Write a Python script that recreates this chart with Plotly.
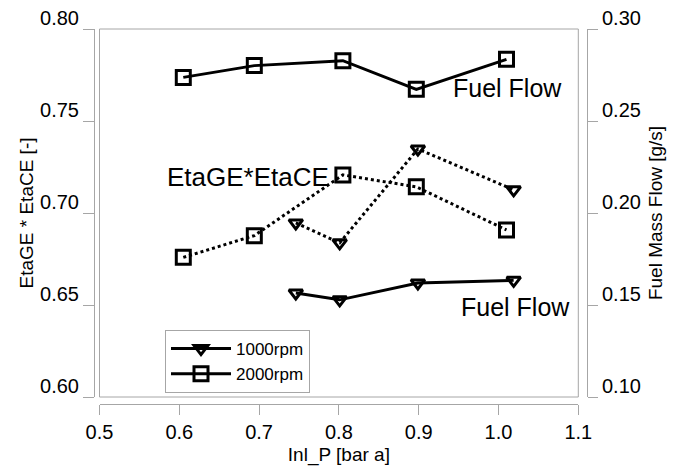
import plotly.graph_objects as go

# Inlet pressure [bar a] for each engine speed
inl_p_1000 = [0.746, 0.801, 0.899, 1.019]
inl_p_2000 = [0.605, 0.694, 0.805, 0.897, 1.010]

# Combined efficiency EtaGE*EtaCE [-]
eta_1000 = [0.6946, 0.6838, 0.7348, 0.7126]
eta_2000 = [0.6759, 0.6877, 0.7207, 0.7142, 0.6908]

# Fuel mass flow [g/s]
fuel_1000 = [0.1565, 0.1528, 0.1620, 0.1634]
fuel_2000 = [0.2737, 0.2801, 0.2828, 0.2672, 0.2835]

series_names = ["1000rpm", "2000rpm"]

FONT = "Arial, Liberation Sans, sans-serif"
GREY = "#a6a6a6"

# plot-area placement in paper fractions (margins are zero)
X0, X1 = 99.5 / 679, 578.3 / 679
Y0, Y1 = 1 - 397 / 468, 1 - 29 / 468

tri = dict(symbol="triangle-down-open", size=12, color="black", line=dict(width=3, color="black"))
sq = dict(symbol="square-open", size=14, color="black", line=dict(width=3, color="black"))

fig = go.Figure()

fig.add_trace(go.Scatter(x=inl_p_1000, y=eta_1000, mode="lines+markers", marker=tri,
                         line=dict(color="black", width=3, dash="dot"), showlegend=False))
fig.add_trace(go.Scatter(x=inl_p_2000, y=eta_2000, mode="lines+markers", marker=sq,
                         line=dict(color="black", width=3, dash="dot"), showlegend=False))
fig.add_trace(go.Scatter(x=inl_p_1000, y=fuel_1000, mode="lines+markers", marker=tri, yaxis="y2",
                         line=dict(color="black", width=3), showlegend=False))
fig.add_trace(go.Scatter(x=inl_p_2000, y=fuel_2000, mode="lines+markers", marker=sq, yaxis="y2",
                         line=dict(color="black", width=3), showlegend=False))

# legend entries (solid line with marker)
fig.add_trace(go.Scatter(x=[None], y=[None], mode="lines+markers", marker=tri, name=series_names[0],
                         line=dict(color="black", width=3)))
fig.add_trace(go.Scatter(x=[None], y=[None], mode="lines+markers", marker=sq, name=series_names[1],
                         line=dict(color="black", width=3)))

tickfont = dict(family=FONT, size=20, color="black")
titlefont = dict(family=FONT, size=19, color="black")

fig.update_layout(
    template="none",
    width=679, height=468,
    margin=dict(l=0, r=0, t=0, b=0),
    paper_bgcolor="white", plot_bgcolor="white",
    font=dict(family=FONT, color="black"),
    xaxis=dict(domain=[X0, X1], range=[0.5, 1.1], dtick=0.1, tick0=0.5, tickformat=".1f",
               anchor="free", position=1 - 404 / 468,
               showgrid=False, zeroline=False, showline=True, linecolor=GREY, linewidth=1,
               ticks="outside", ticklen=10, tickcolor=GREY, tickwidth=1, tickfont=tickfont,
               title=dict(text="Inl_P [bar a]", font=titlefont, standoff=5), automargin=False),
    yaxis=dict(domain=[Y0, Y1], range=[0.6, 0.8], dtick=0.05, tick0=0.6, tickformat=".2f",
               anchor="free", position=94 / 679,
               showgrid=False, zeroline=False, showline=True, linecolor=GREY, linewidth=1,
               ticks="outside", ticklen=11, tickcolor=GREY, tickwidth=1, tickfont=tickfont,
               ticklabelshift=-11,
               title=dict(text="EtaGE * EtaCE [-]", font=titlefont, standoff=0), automargin=False),
    yaxis2=dict(range=[0.1, 0.3], dtick=0.05, tick0=0.1, tickformat=".2f",
                overlaying="y", side="right", anchor="free", position=587 / 679,
                showgrid=False, zeroline=False, showline=True, linecolor=GREY, linewidth=1,
                ticks="outside", ticklen=10, tickcolor=GREY, tickwidth=1, tickfont=tickfont,
                ticklabelshift=-11,
                title=dict(text="Fuel Mass Flow [g/s]", font=titlefont, standoff=8), automargin=False),
    legend=dict(x=165 / 679, y=1 - 330 / 468, xanchor="left", yanchor="top",
                bordercolor=GREY, borderwidth=1, bgcolor="white", itemwidth=60,
                font=dict(family=FONT, size=17, color="black"), tracegroupgap=0),
    showlegend=True,
)

# plot frame
fig.add_shape(type="rect", xref="paper", yref="paper", x0=X0, x1=X1, y0=Y0, y1=Y1,
              line=dict(color=GREY, width=1), layer="below")

fig.add_annotation(text="Fuel Flow", xref="paper", yref="paper", x=451 / 679, y=1 - 88 / 468,
                   xanchor="left", yanchor="middle", showarrow=False,
                   font=dict(family=FONT, size=25, color="black"))
fig.add_annotation(text="EtaGE*EtaCE", xref="paper", yref="paper", x=165 / 679, y=1 - 177 / 468,
                   xanchor="left", yanchor="middle", showarrow=False,
                   font=dict(family=FONT, size=26, color="black"))
fig.add_annotation(text="Fuel Flow", xref="paper", yref="paper", x=459 / 679, y=1 - 307 / 468,
                   xanchor="left", yanchor="middle", showarrow=False,
                   font=dict(family=FONT, size=25, color="black"))

fig.write_html("out.html")
